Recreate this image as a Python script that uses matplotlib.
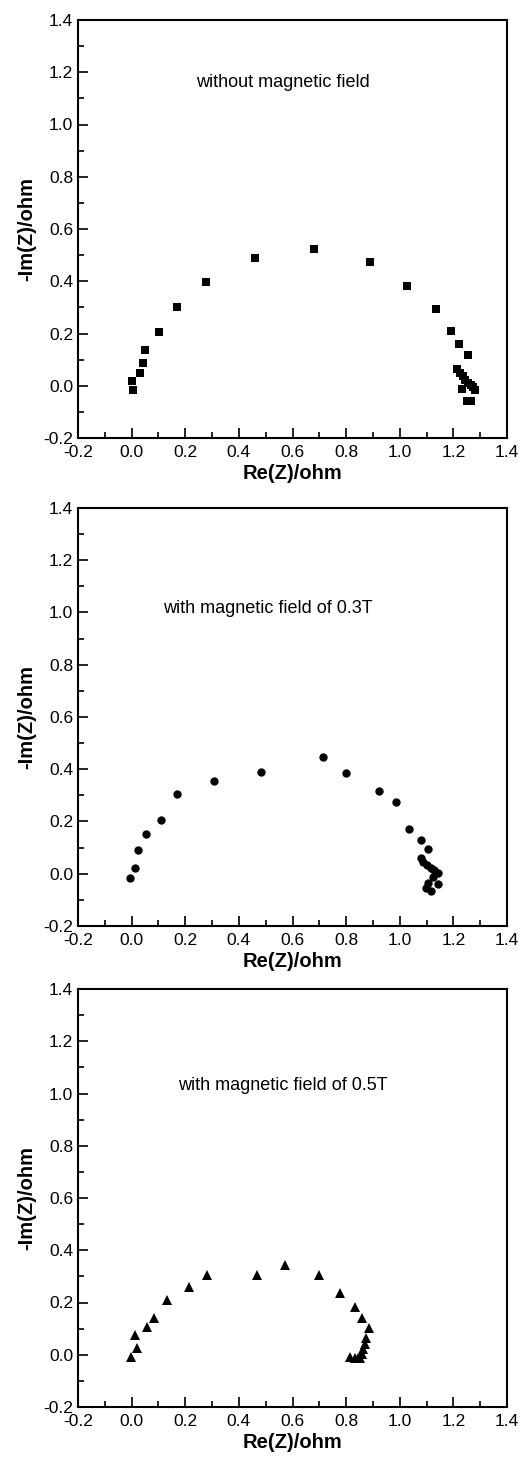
import matplotlib
matplotlib.use("Agg")
import matplotlib.pyplot as plt
from matplotlib.ticker import MultipleLocator

plt.rcParams['font.family'] = ['Liberation Sans', 'DejaVu Sans']

# Panel 1: without magnetic field
re_0T = [0.002, 0.004, 0.031, 0.043, 0.050, 0.103, 0.169, 0.278, 0.461, 0.680,
         0.890, 1.026, 1.137, 1.190, 1.221, 1.254, 1.215, 1.225, 1.235, 1.245,
         1.255, 1.265, 1.275, 1.280, 1.231, 1.250, 1.265]
im_0T = [0.017, -0.015, 0.048, 0.087, 0.138, 0.204, 0.303, 0.399, 0.490, 0.522,
         0.474, 0.382, 0.293, 0.211, 0.160, 0.116, 0.064, 0.050, 0.036, 0.022,
         0.012, 0.004, -0.005, -0.015, -0.013, -0.057, -0.057]

# Panel 2: 0.3 T
re_03T = [-0.006, 0.012, 0.025, 0.052, 0.111, 0.168, 0.308, 0.481, 0.712, 0.799,
          0.922, 0.987, 1.033, 1.078, 1.105, 1.078, 1.088, 1.100, 1.115, 1.129,
          1.144, 1.125, 1.141, 1.104, 1.098, 1.115]
im_03T = [-0.015, 0.023, 0.089, 0.154, 0.206, 0.306, 0.354, 0.390, 0.448, 0.387,
          0.317, 0.275, 0.171, 0.131, 0.096, 0.059, 0.046, 0.033, 0.023, 0.014,
          0.004, -0.011, -0.041, -0.034, -0.056, -0.066]

# Panel 3: 0.5 T
re_05T = [-0.002, 0.019, 0.012, 0.057, 0.083, 0.133, 0.215, 0.282, 0.469, 0.573,
          0.699, 0.779, 0.832, 0.861, 0.885, 0.874, 0.870, 0.864, 0.858, 0.851,
          0.814, 0.833, 0.845]
im_05T = [-0.009, 0.027, 0.074, 0.106, 0.141, 0.210, 0.259, 0.306, 0.306, 0.345,
          0.306, 0.236, 0.183, 0.141, 0.102, 0.064, 0.042, 0.023, 0.004, -0.013,
          -0.009, -0.013, -0.013]

labels = ["without magnetic field", "with magnetic field of 0.3T", "with magnetic field of 0.5T"]
label_pos = [(0.565, 1.159), (0.509, 1.017), (0.565, 1.029)]
markers = ['s', 'o', '^']
msizes = [5.6, 6.0, 7.0]
xs = [re_0T, re_03T, re_05T]
ys = [im_0T, im_03T, im_05T]

fig = plt.figure(figsize=(5.21, 14.62), dpi=100)
left, width, height = 78/521, 429/521, 418/1462
bottoms = [1 - 438/1462, 1 - 926/1462, 1 - 1407/1462]

for i in range(3):
    ax = fig.add_axes([left, bottoms[i], width, height])
    ax.plot(xs[i], ys[i], linestyle='none', marker=markers[i], ms=msizes[i],
            color='black', markeredgewidth=0)
    ax.set_xlim(-0.2, 1.4)
    ax.set_ylim(-0.2, 1.4)
    ax.xaxis.set_major_locator(MultipleLocator(0.2))
    ax.xaxis.set_minor_locator(MultipleLocator(0.1))
    ax.yaxis.set_major_locator(MultipleLocator(0.2))
    ax.yaxis.set_minor_locator(MultipleLocator(0.1))
    ax.xaxis.set_major_formatter(plt.FuncFormatter(lambda v, p: f"{v:.1f}"))
    ax.yaxis.set_major_formatter(plt.FuncFormatter(lambda v, p: f"{v:.1f}"))
    ax.tick_params(which='both', direction='in', top=False, right=False,
                   width=1.2, labelsize=12.5)
    ax.tick_params(axis='x', pad=5)
    ax.tick_params(axis='y', pad=3.5)
    ax.tick_params(which='major', length=7)
    ax.tick_params(which='minor', length=4)
    for s in ax.spines.values():
        s.set_linewidth(1.5)
    ax.set_xlabel("Re(Z)/ohm", fontsize=14.5, fontweight='bold', labelpad=3)
    ax.set_ylabel("-Im(Z)/ohm", fontsize=14.5, fontweight='bold', labelpad=5)
    ax.text(label_pos[i][0], label_pos[i][1], labels[i], ha='center', va='center',
            fontsize=13)

fig.savefig("out.png", dpi=100)
